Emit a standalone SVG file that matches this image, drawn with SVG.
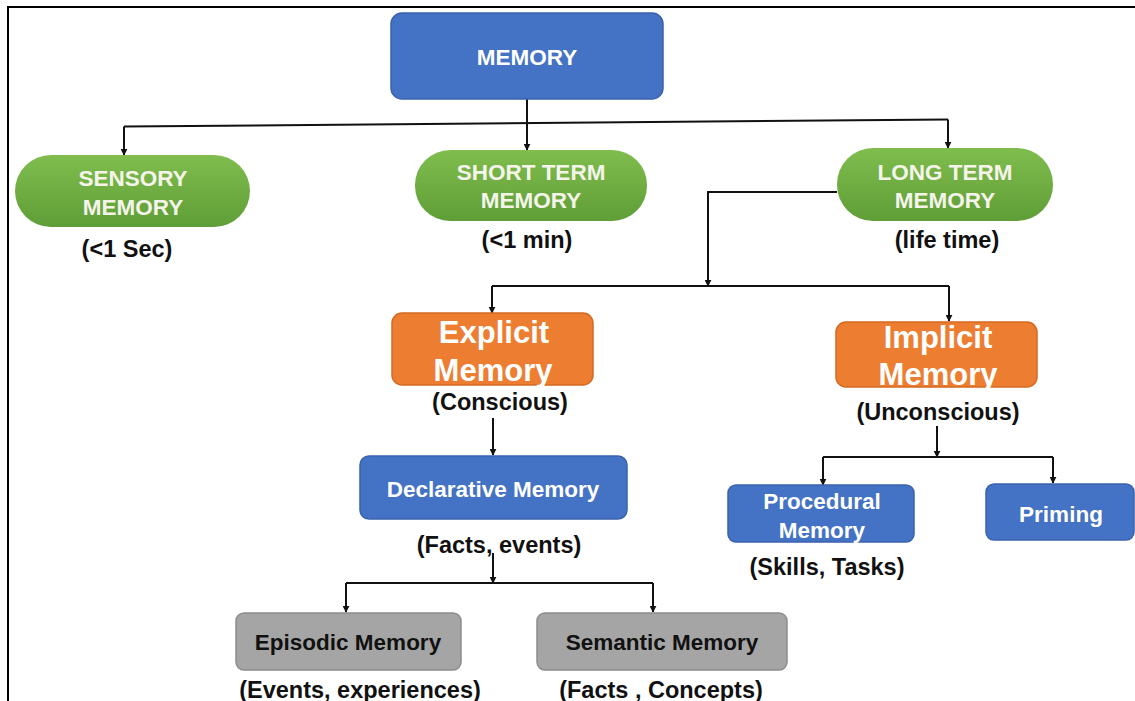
<svg xmlns="http://www.w3.org/2000/svg" width="1135" height="701" viewBox="0 0 1135 701">
  <defs>
    <linearGradient id="greenFill" x1="0" y1="0" x2="0" y2="1">
      <stop offset="0" stop-color="#80BD4E"/>
      <stop offset="1" stop-color="#5F9E37"/>
    </linearGradient>
    <marker id="arrow" viewBox="0 0 10 10" refX="9" refY="5" markerWidth="7" markerHeight="7" orient="auto" markerUnits="userSpaceOnUse">
      <path d="M0,0 L10,5 L0,10 z" fill="#111"/>
    </marker>
  </defs>
  <style>
    text { font-family: "Liberation Sans", Arial, sans-serif; font-weight: bold; text-anchor: middle; }
    .blue { fill: #4472C4; stroke: #3A63AD; stroke-width: 1.5; }
    .orange { fill: #ED7D31; stroke: #D46A22; stroke-width: 1.5; }
    .green { fill: url(#greenFill); }
    .gray { fill: #A5A5A5; stroke: #8C8C8C; stroke-width: 1.5; }
    .light { fill: #FFFFFF; font-size: 22.5px; }
    .cream { fill: #F4F4EA; font-size: 22.5px; }
    .big { fill: #FFFFFF; font-size: 31px; }
    .dark { fill: #111111; font-size: 22.5px; }
    .note { fill: #111111; font-size: 23.5px; }
    .wire { fill: none; stroke: #111; stroke-width: 2; }
    .frame { fill: none; stroke: #000; stroke-width: 2; }
  </style>

  <rect width="1135" height="701" fill="#FFFFFF"/>
  <path class="frame" d="M8,701 V7 H1135"/>

  <!-- connectors -->
  <g id="connectors">
    <path class="wire" d="M124,126.5 L948,119.5"/>
    <path class="wire" d="M527,99 V150" marker-end="url(#arrow)"/>
    <path class="wire" d="M124,126.5 V155" marker-end="url(#arrow)"/>
    <path class="wire" d="M948,119.5 V148" marker-end="url(#arrow)"/>

    <path class="wire" d="M837,192 H708 V286" marker-end="url(#arrow)"/>
    <path class="wire" d="M492,286 H949"/>
    <path class="wire" d="M492,286 V313" marker-end="url(#arrow)"/>
    <path class="wire" d="M949,286 V321" marker-end="url(#arrow)"/>

    <path class="wire" d="M493,418 V455" marker-end="url(#arrow)"/>

    <path class="wire" d="M493,553 V583" marker-end="url(#arrow)"/>
    <path class="wire" d="M346,583 H653"/>
    <path class="wire" d="M346,583 V612" marker-end="url(#arrow)"/>
    <path class="wire" d="M653,583 V612" marker-end="url(#arrow)"/>

    <path class="wire" d="M937,426 V457" marker-end="url(#arrow)"/>
    <path class="wire" d="M823,457 H1053"/>
    <path class="wire" d="M823,457 V485" marker-end="url(#arrow)"/>
    <path class="wire" d="M1053,457 V483" marker-end="url(#arrow)"/>
  </g>

  <!-- nodes -->
  <g id="memory">
    <rect class="blue" x="391" y="13" width="272" height="86" rx="11"/>
    <text class="light" x="527" y="65">MEMORY</text>
  </g>

  <g id="sensory">
    <rect class="green" x="15" y="155" width="235" height="72" rx="36"/>
    <text class="cream" x="133" y="186">SENSORY</text>
    <text class="cream" x="133" y="215">MEMORY</text>
    <text class="note" x="127" y="257">(&lt;1 Sec)</text>
  </g>

  <g id="short-term">
    <rect class="green" x="415" y="150" width="232" height="71" rx="35"/>
    <text class="cream" x="531" y="180">SHORT TERM</text>
    <text class="cream" x="531" y="208">MEMORY</text>
    <text class="note" x="527" y="248">(&lt;1 min)</text>
  </g>

  <g id="long-term">
    <rect class="green" x="837" y="148" width="216" height="73" rx="36"/>
    <text class="cream" x="945" y="180">LONG TERM</text>
    <text class="cream" x="945" y="208">MEMORY</text>
    <text class="note" x="947" y="248">(life time)</text>
  </g>

  <g id="explicit">
    <rect class="orange" x="392" y="313" width="201" height="72" rx="10"/>
    <text class="big" x="494" y="343">Explicit</text>
    <text class="big" x="493" y="381">Memory</text>
    <text class="note" x="500" y="410">(Conscious)</text>
  </g>

  <g id="implicit">
    <rect class="orange" x="836" y="322" width="201" height="65" rx="10"/>
    <text class="big" x="938" y="348">Implicit</text>
    <text class="big" x="938" y="385">Memory</text>
    <text class="note" x="938" y="420">(Unconscious)</text>
  </g>

  <g id="declarative">
    <rect class="blue" x="360" y="456" width="267" height="63" rx="9"/>
    <text class="light" x="493" y="497">Declarative Memory</text>
    <text class="note" x="499" y="553">(Facts, events)</text>
  </g>

  <g id="procedural">
    <rect class="blue" x="728" y="485" width="186" height="57" rx="8"/>
    <text class="light" x="822" y="509">Procedural</text>
    <text class="light" x="822" y="538">Memory</text>
    <text class="note" x="827" y="575">(Skills, Tasks)</text>
  </g>

  <g id="priming">
    <rect class="blue" x="986" y="484" width="148" height="56" rx="8"/>
    <text class="light" x="1061" y="522">Priming</text>
  </g>

  <g id="episodic">
    <rect class="gray" x="236" y="613" width="225" height="57" rx="8"/>
    <text class="dark" x="348" y="650">Episodic Memory</text>
    <text class="note" x="360" y="698">(Events, experiences)</text>
  </g>

  <g id="semantic">
    <rect class="gray" x="537" y="613" width="250" height="57" rx="8"/>
    <text class="dark" x="662" y="650">Semantic Memory</text>
    <text class="note" x="661" y="698">(Facts , Concepts)</text>
  </g>
</svg>
